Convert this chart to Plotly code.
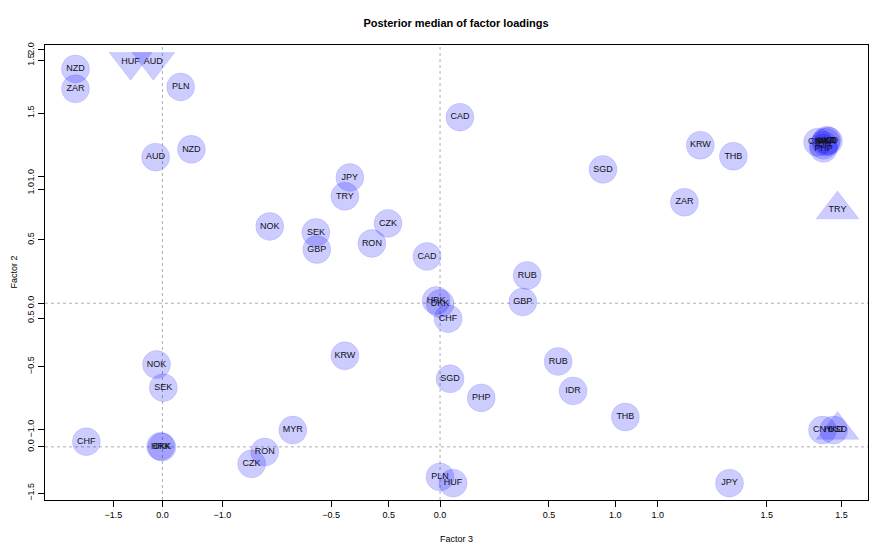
import plotly.graph_objects as go

# ---------------- data (posterior median loadings) ----------------
currencies = ["NZD", "ZAR", "HUF", "AUD", "PLN", "CAD", "JPY", "TRY", "NOK", "SEK",
              "GBP", "CZK", "RON", "RUB", "HRK", "DKK", "CHF", "KRW", "THB", "SGD",
              "IDR", "PHP", "MYR", "CNY", "HKD", "USD"]

# panel A
load_x_a = [-1.674, 1.122, -1.421, -1.306, -1.191, -0.060, 1.329, -0.437, -0.782, -0.570,
            -0.566, -0.239, -0.313, 0.400, -0.018, 0.000, 0.037, -0.437, 0.851, 0.046,
            0.611, 0.189, -0.676, 1.756, 1.807, 1.825]
load_y_a = [1.849, 0.797, 1.905, 1.153, 1.707, 0.369, -1.420, 0.844, 0.606, 0.558,
            0.424, 0.630, 0.472, 0.219, 0.021, -0.003, -0.122, -0.415, -0.898, -0.597,
            -0.692, -0.747, -1.001, -1.001, -1.001, -1.001]

# panel B
load_x_b = [0.064, -0.192, 0.642, -0.020, 0.613, 0.657, 0.414, 1.491, -0.013, 0.002,
            0.796, 0.197, 0.226, 0.874, -0.004, -0.001, -0.168, 1.188, 1.261, 0.973,
            1.460, 1.460, 1.465, 1.447, 1.467, 1.471]
load_y_b = [1.156, 1.391, -0.141, 1.496, -0.117, 1.281, 1.047, 0.922, 0.320, 0.230,
            0.563, -0.066, -0.020, 0.332, 0.002, -0.001, 0.020, 1.172, 1.129, 1.078,
            1.172, 1.160, 1.184, 1.184, 1.191, 1.188]

x_ticks_a = [-1.5, -1.0, -0.5, 0.0, 0.5, 1.0, 1.5]
y_ticks_a = [-1.5, -1.0, -0.5, 0.0, 0.5, 1.0, 1.5, 2.0]
x_ticks_b = [0.0, 0.5, 1.0, 1.5]
y_ticks_b = [0.0, 0.5, 1.0, 1.5]

title_text = "Posterior median of factor loadings"
xlab = "Factor 3"
ylab = "Factor 2"

# ---------------- styling ----------------
FILL = "rgba(0,0,255,0.2)"
EDGE = "rgba(0,0,255,0.2)"
FONT = "Liberation Sans, Arial, Helvetica, sans-serif"
special_a = {"HUF": "triangle-down", "USD": "triangle-up"}
special_b = {"AUD": "triangle-down", "TRY": "triangle-up"}

# page body has an 8px margin: place the plot box at x 45..868, y 45..500 on screen
OFF = 8
W, H = 891, 557
L, R_EDGE, T, B_EDGE = 45, 868, 45, 500
PW, PH = R_EDGE - L, B_EDGE - T


def r_range(v):
    lo, hi = min(v), max(v)
    d = hi - lo
    return [lo - 0.04 * d, hi + 0.04 * d]


def panel_traces(xs, ys, special, xa, ya):
    out = []
    circ = [i for i, c in enumerate(currencies) if c not in special]
    tri = [i for i, c in enumerate(currencies) if c in special]
    out.append(go.Scatter(
        x=[xs[i] for i in circ], y=[ys[i] for i in circ],
        text=[currencies[i] for i in circ], mode="markers+text",
        textposition="middle center",
        textfont=dict(family=FONT, size=9, color="#111"),
        marker=dict(size=28, color=FILL, line=dict(width=0.5, color=EDGE), symbol="circle"),
        xaxis=xa, yaxis=ya, showlegend=False, hoverinfo="text", cliponaxis=False))
    out.append(go.Scatter(
        x=[xs[i] for i in tri], y=[ys[i] for i in tri],
        text=[currencies[i] for i in tri], mode="markers+text",
        textposition="middle center",
        textfont=dict(family=FONT, size=9, color="#111"),
        marker=dict(size=37, color=FILL, line=dict(width=0.5, color=EDGE),
                    symbol=[special[currencies[i]] for i in tri]),
        xaxis=xa, yaxis=ya, showlegend=False, hoverinfo="text", cliponaxis=False))
    return out


fig = go.Figure()
for t in panel_traces(load_x_a, load_y_a, special_a, "x", "y"):
    fig.add_trace(t)
for t in panel_traces(load_x_b, load_y_b, special_b, "x2", "y2"):
    fig.add_trace(t)

axis_common = dict(showgrid=False, zeroline=False, ticks="outside", ticklen=6,
                   tickwidth=1, tickcolor="black", showline=True, linecolor="black",
                   linewidth=1, tickformat=".1f",
                   tickfont=dict(family=FONT, size=9, color="black"))

fig.update_layout(
    width=W, height=H,
    margin=dict(l=L - OFF, r=W + OFF - R_EDGE, t=T - OFF, b=H + OFF - B_EDGE),
    paper_bgcolor="white", plot_bgcolor="white",
    font=dict(family=FONT, color="black"),
    title=dict(text="<b>" + title_text + "</b>", x=(456 - OFF) / W, xanchor="center",
               y=1 - (23 - OFF) / H, yanchor="middle", yref="container",
               font=dict(family=FONT, size=11, color="black")),
    xaxis=dict(range=r_range(load_x_a), tickvals=x_ticks_a, mirror=True, **axis_common),
    yaxis=dict(range=r_range(load_y_a), tickvals=y_ticks_a, mirror=True, tickangle=-90,
               **axis_common),
    xaxis2=dict(range=r_range(load_x_b), tickvals=x_ticks_b, overlaying="x", side="bottom",
                anchor="y2", **axis_common),
    yaxis2=dict(range=r_range(load_y_b), tickvals=y_ticks_b, overlaying="y", side="left",
                anchor="x2", tickangle=-90, **axis_common),
    annotations=[
        dict(text=xlab, xref="paper", yref="paper", x=0.5, y=-39 / PH, xanchor="center",
             yanchor="middle", showarrow=False, font=dict(family=FONT, size=9, color="black")),
        dict(text=ylab, xref="paper", yref="paper", x=-32 / PW, y=0.5, xanchor="center",
             yanchor="middle", textangle=-90, showarrow=False,
             font=dict(family=FONT, size=9, color="black")),
    ],
)

dot = dict(color="#9a9a9a", width=0.8, dash="dot")
for xr, yr in (("x", "y"), ("x2", "y2")):
    fig.add_shape(type="line", xref=xr, yref=yr + " domain", x0=0, x1=0, y0=0, y1=1,
                  line=dot, layer="below")
    fig.add_shape(type="line", xref=xr + " domain", yref=yr, x0=0, x1=1, y0=0, y1=0,
                  line=dot, layer="below")

fig.write_html("out.html")
